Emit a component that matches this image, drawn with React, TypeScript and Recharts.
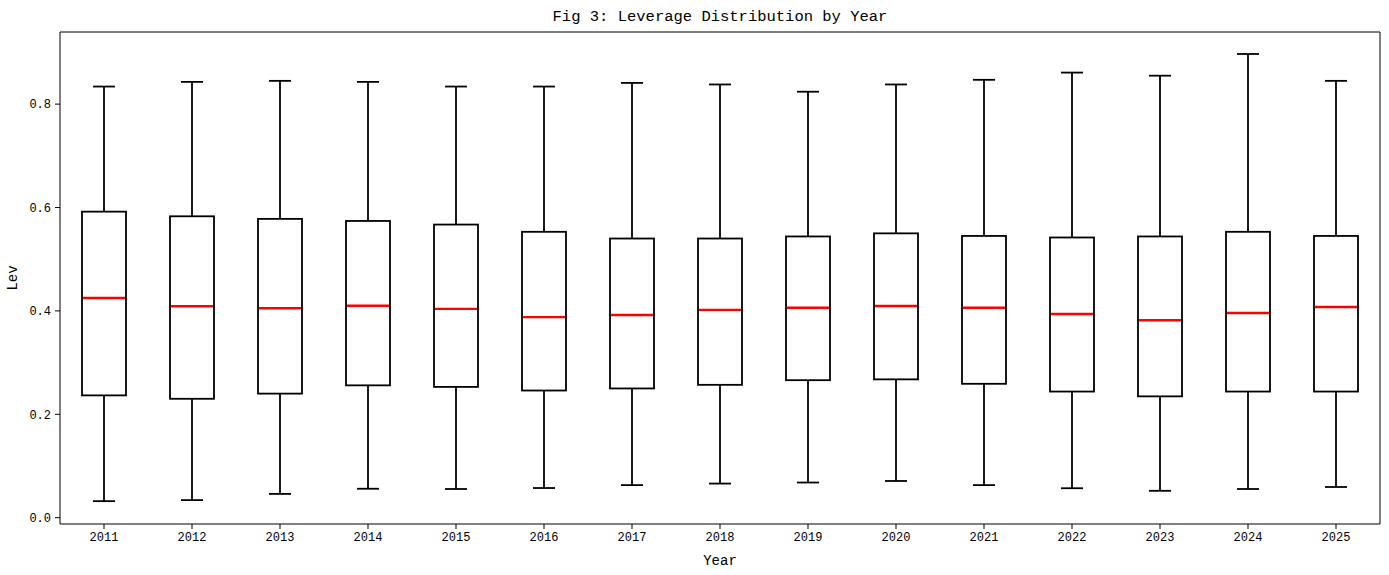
import React from "react";
import { ComposedChart, Bar, XAxis, YAxis, Label } from "recharts";

// year categories and box statistics
const years = ["2011", "2012", "2013", "2014", "2015", "2016", "2017", "2018", "2019", "2020", "2021", "2022", "2023", "2024", "2025"];
const whiskerLow = [0.032, 0.034, 0.046, 0.056, 0.0555, 0.0574, 0.063, 0.066, 0.068, 0.071, 0.063, 0.057, 0.052, 0.0555, 0.0594];
const q1 = [0.2366, 0.23, 0.24, 0.256, 0.253, 0.246, 0.25, 0.257, 0.266, 0.2676, 0.259, 0.244, 0.2347, 0.244, 0.244];
const median = [0.425, 0.409, 0.405, 0.41, 0.404, 0.388, 0.392, 0.402, 0.406, 0.4095, 0.406, 0.394, 0.382, 0.396, 0.4075];
const q3 = [0.592, 0.583, 0.578, 0.574, 0.567, 0.553, 0.54, 0.54, 0.544, 0.55, 0.545, 0.542, 0.544, 0.553, 0.545];
const whiskerHigh = [0.834, 0.843, 0.845, 0.843, 0.834, 0.834, 0.841, 0.838, 0.824, 0.838, 0.847, 0.861, 0.855, 0.897, 0.845];
const yTicks = [0, 0.2, 0.4, 0.6, 0.8];

const data = years.map((year, i) => ({
  year,
  range: [whiskerLow[i], whiskerHigh[i]],
  lo: whiskerLow[i],
  q1: q1[i],
  med: median[i],
  q3: q3[i],
  hi: whiskerHigh[i],
}));

const FONT = "'Liberation Mono', 'DejaVu Sans Mono', monospace";
const LW = 1.8;

// draws whiskers, caps, box and median from the range bar's own pixel extent
function BoxShape(props: any) {
  const { x, y, width, height, payload } = props;
  const top = Math.min(y, y + height);
  const h = Math.abs(height);
  const k = h / (payload.hi - payload.lo);
  const py = (v: number) => top + (payload.hi - v) * k;
  const cx = x + width / 2;
  const cap = width / 4;
  return (
    <g>
      <line x1={cx} x2={cx} y1={py(payload.hi)} y2={py(payload.q3)} stroke="#000" strokeWidth={LW} />
      <line x1={cx} x2={cx} y1={py(payload.q1)} y2={py(payload.lo)} stroke="#000" strokeWidth={LW} />
      <line x1={cx - cap} x2={cx + cap} y1={py(payload.hi)} y2={py(payload.hi)} stroke="#000" strokeWidth={LW} />
      <line x1={cx - cap} x2={cx + cap} y1={py(payload.lo)} y2={py(payload.lo)} stroke="#000" strokeWidth={LW} />
      <rect x={x} y={py(payload.q3)} width={width} height={py(payload.q1) - py(payload.q3)} fill="#fff" stroke="#000" strokeWidth={LW} />
      <line x1={x + 0.9} x2={x + width - 0.9} y1={py(payload.med)} y2={py(payload.med)} stroke="#ff0000" strokeWidth={2.4} />
    </g>
  );
}

export default function App() {
  return (
    <div style={{ position: "absolute", left: 0, top: 0, width: 1389, height: 575, background: "#fff" }}>
      <div
        style={{
          position: "absolute",
          left: 60,
          width: 1320,
          top: 7,
          textAlign: "center",
          fontFamily: FONT,
          fontSize: 15.5,
          color: "#000",
          lineHeight: "20px",
        }}
      >
        Fig 3: Leverage Distribution by Year
      </div>
      <ComposedChart width={1389} height={575} data={data} margin={{ top: 31, right: 8, bottom: 0, left: 0 }} barCategoryGap="25%">
        <XAxis
          dataKey="year"
          height={51}
          tick={{ fontSize: 12, fill: "#000", fontFamily: FONT }}
          tickSize={5}
          tickMargin={3}
          tickLine={{ stroke: "#000" }}
          axisLine={{ stroke: "#000" }}
        >
          <Label value="Year" position="insideBottom" offset={10} style={{ fontSize: 14, fill: "#000", fontFamily: FONT }} />
        </XAxis>
        <XAxis xAxisId="top" dataKey="year" orientation="top" height={1} tick={false} tickLine={false} axisLine={{ stroke: "#000" }} />
        <YAxis
          type="number"
          domain={[-0.0122, 0.9395]}
          ticks={yTicks}
          allowDataOverflow
          width={60}
          tickFormatter={(v: number) => v.toFixed(1)}
          tick={{ fontSize: 12, fill: "#000", fontFamily: FONT }}
          tickSize={5}
          tickMargin={4}
          tickLine={{ stroke: "#000" }}
          axisLine={{ stroke: "#000" }}
        >
          <Label value="Lev" angle={-90} position="insideLeft" offset={12} style={{ fontSize: 14, fill: "#000", fontFamily: FONT, textAnchor: "middle" }} />
        </YAxis>
        <YAxis yAxisId="right" orientation="right" width={1} tick={false} tickLine={false} axisLine={{ stroke: "#000" }} domain={[0, 1]} />
        <Bar dataKey="range" shape={<BoxShape />} isAnimationActive={false} />
      </ComposedChart>
    </div>
  );
}
